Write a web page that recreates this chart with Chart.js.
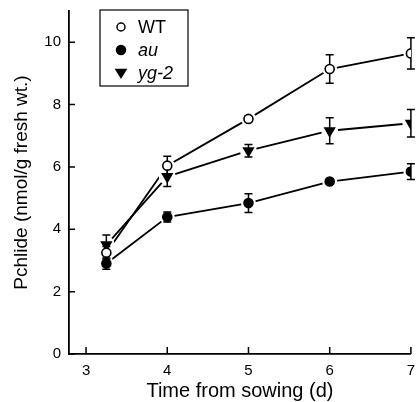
<!DOCTYPE html>
<html>
<head>
<meta charset="utf-8">
<script src="https://cdn.jsdelivr.net/npm/chart.js@4.4.1/dist/chart.umd.min.js"></script>
<style>
  html, body { margin: 0; padding: 0; background: #fff; }
  #wrap { width: 418px; height: 402px; }
</style>
</head>
<body>
<div id="wrap"><canvas id="chart" width="418" height="402"></canvas></div>
<script>
// data
const days = [3.25, 4, 5, 6, 7];
const wtMean = [3.25, 6.04, 7.54, 9.14, 9.64];
const wtErr = [0.2, 0.3, 0.08, 0.46, 0.5];
const auMean = [2.9, 4.39, 4.84, 5.53, 5.85];
const auErr = [0.18, 0.16, 0.3, 0.08, 0.25];
const ygMean = [3.5, 5.69, 6.52, 7.16, 7.4];
const ygErr = [0.32, 0.32, 0.2, 0.42, 0.44];
const yTicks = [0, 2, 4, 6, 8, 10];
const xTicks = [3, 4, 5, 6, 7];

const FONT = "'Liberation Sans', Arial, sans-serif";

const series = [
  { label: "WT", mean: wtMean, err: wtErr, style: "circle", fill: "#fff", rot: 0, radius: 4.5, legR: 4, italic: false },
  { label: "au", mean: auMean, err: auErr, style: "circle", fill: "#000", rot: 0, radius: 4.5, legR: 4.5, italic: true },
  { label: "yg-2", mean: ygMean, err: ygErr, style: "triangle", fill: "#000", rot: 180, radius: 5.5, legR: 5, italic: true },
];

const pts = (arr) => days.map((d, i) => ({ x: d, y: arr[i] }));

const datasets = [];
// lines first (higher order = drawn earlier)
series.forEach((s) => {
  datasets.push({
    type: "line",
    data: pts(s.mean),
    borderColor: "#000",
    borderWidth: 1.8,
    pointRadius: 0,
    fill: false,
    order: 2,
    isLine: true,
  });
});
// markers on top
series.forEach((s) => {
  datasets.push({
    type: "line",
    label: s.label,
    data: pts(s.mean),
    showLine: false,
    pointStyle: s.style,
    pointRotation: s.rot,
    pointRadius: s.radius,
    pointBackgroundColor: s.fill,
    pointBorderColor: "#000",
    pointBorderWidth: 1.6,
    order: 1,
  });
});

// white halo + error bars drawn after lines, before markers
let haloDone = false;
const errorBars = {
  id: "errorBars",
  beforeDatasetsDraw() { haloDone = false; },
  beforeDatasetDraw(chart, args) {
    const ds = chart.data.datasets[args.index];
    if (ds.isLine || haloDone) return;
    haloDone = true;
    const ctx = chart.ctx;
    const xs = chart.scales.x, ys = chart.scales.y;
    ctx.save();
    ctx.fillStyle = "#fff";
    series.forEach((s) => {
      s.mean.forEach((v, i) => {
        ctx.beginPath();
        ctx.arc(xs.getPixelForValue(days[i]), ys.getPixelForValue(v), s.radius + 3, 0, Math.PI * 2);
        ctx.fill();
      });
    });
    ctx.strokeStyle = "#000";
    ctx.lineWidth = 1.5;
    series.forEach((s) => {
      s.mean.forEach((v, i) => {
        const x = xs.getPixelForValue(days[i]);
        const top = ys.getPixelForValue(v + s.err[i]);
        const bot = ys.getPixelForValue(v - s.err[i]);
        ctx.beginPath();
        ctx.moveTo(x, top); ctx.lineTo(x, bot);
        ctx.moveTo(x - 4, top); ctx.lineTo(x + 4, top);
        ctx.moveTo(x - 4, bot); ctx.lineTo(x + 4, bot);
        ctx.stroke();
      });
    });
    ctx.restore();
  },
  afterDraw(chart) {
    const ctx = chart.ctx;
    const xs = chart.scales.x, ys = chart.scales.y;
    const area = chart.chartArea;
    ctx.save();
    ctx.strokeStyle = "#000";
    ctx.lineWidth = 1.5;
    // inward ticks
    ctx.beginPath();
    yTicks.forEach((t) => {
      const y = ys.getPixelForValue(t);
      ctx.moveTo(area.left, y); ctx.lineTo(area.left + 6, y);
    });
    xTicks.forEach((t) => {
      const x = xs.getPixelForValue(t);
      ctx.moveTo(x, area.bottom); ctx.lineTo(x, area.bottom - 7);
    });
    ctx.stroke();

    // legend box
    const bx = 100, by = 10, bw = 88, bh = 76;
    ctx.lineWidth = 1.2;
    ctx.fillStyle = "#fff";
    ctx.fillRect(bx, by, bw, bh);
    ctx.strokeRect(bx, by, bw, bh);
    const rows = [27, 50, 73];
    series.forEach((s, k) => {
      const cx = 121, cy = rows[k];
      ctx.fillStyle = s.fill;
      ctx.strokeStyle = "#000";
      ctx.lineWidth = 1.5;
      ctx.beginPath();
      if (s.style === "circle") {
        ctx.arc(cx, cy, s.legR, 0, Math.PI * 2);
      } else {
        const r = s.legR;
        ctx.moveTo(cx - r, cy - r * 0.7);
        ctx.lineTo(cx + r, cy - r * 0.7);
        ctx.lineTo(cx, cy + r * 0.9);
        ctx.closePath();
      }
      ctx.fill();
      ctx.stroke();
      ctx.fillStyle = "#000";
      ctx.font = (s.italic ? "italic " : "") + "18px " + FONT;
      ctx.textBaseline = "middle";
      ctx.textAlign = "left";
      ctx.fillText(s.label, 138, cy + 1);
    });
    ctx.restore();
  },
};

new Chart(document.getElementById("chart"), {
  data: { datasets },
  plugins: [errorBars],
  options: {
    responsive: false,
    animation: false,
    layout: { padding: { top: 11, right: 5, left: 0, bottom: 0 } },
    plugins: { legend: { display: false }, tooltip: { enabled: false } },
    scales: {
      x: {
        type: "linear",
        min: 2.79,
        max: 7,
        afterFit: (s) => { s.height = 48; s.paddingLeft = 0; s.paddingRight = 0; },
        afterBuildTicks: (s) => { s.ticks = xTicks.map((v) => ({ value: v })); },
        grid: { display: false, drawTicks: false },
        border: { display: true, color: "#000", width: 1.8 },
        ticks: { color: "#000", font: { size: 15, family: FONT }, padding: 8, maxRotation: 0 },
        title: {
          display: true,
          text: "Time from sowing (d)",
          color: "#000",
          font: { size: 20, family: FONT, lineHeight: 1.1 },
          padding: 0,
        },
      },
      y: {
        type: "linear",
        min: 0,
        max: 11,
        afterFit: (s) => { s.width = 69; s.paddingTop = 0; s.paddingBottom = 0; },
        afterBuildTicks: (s) => { s.ticks = yTicks.map((v) => ({ value: v })); },
        grid: { display: false, drawTicks: false },
        border: { display: true, color: "#000", width: 1.8 },
        ticks: { color: "#000", font: { size: 15, family: FONT }, padding: 8 },
        title: {
          display: true,
          text: "Pchlide (nmol/g fresh wt.)",
          color: "#000",
          font: { size: 19, family: FONT, lineHeight: 2.3 },
          padding: 0,
        },
      },
    },
  },
});
</script>
</body>
</html>
